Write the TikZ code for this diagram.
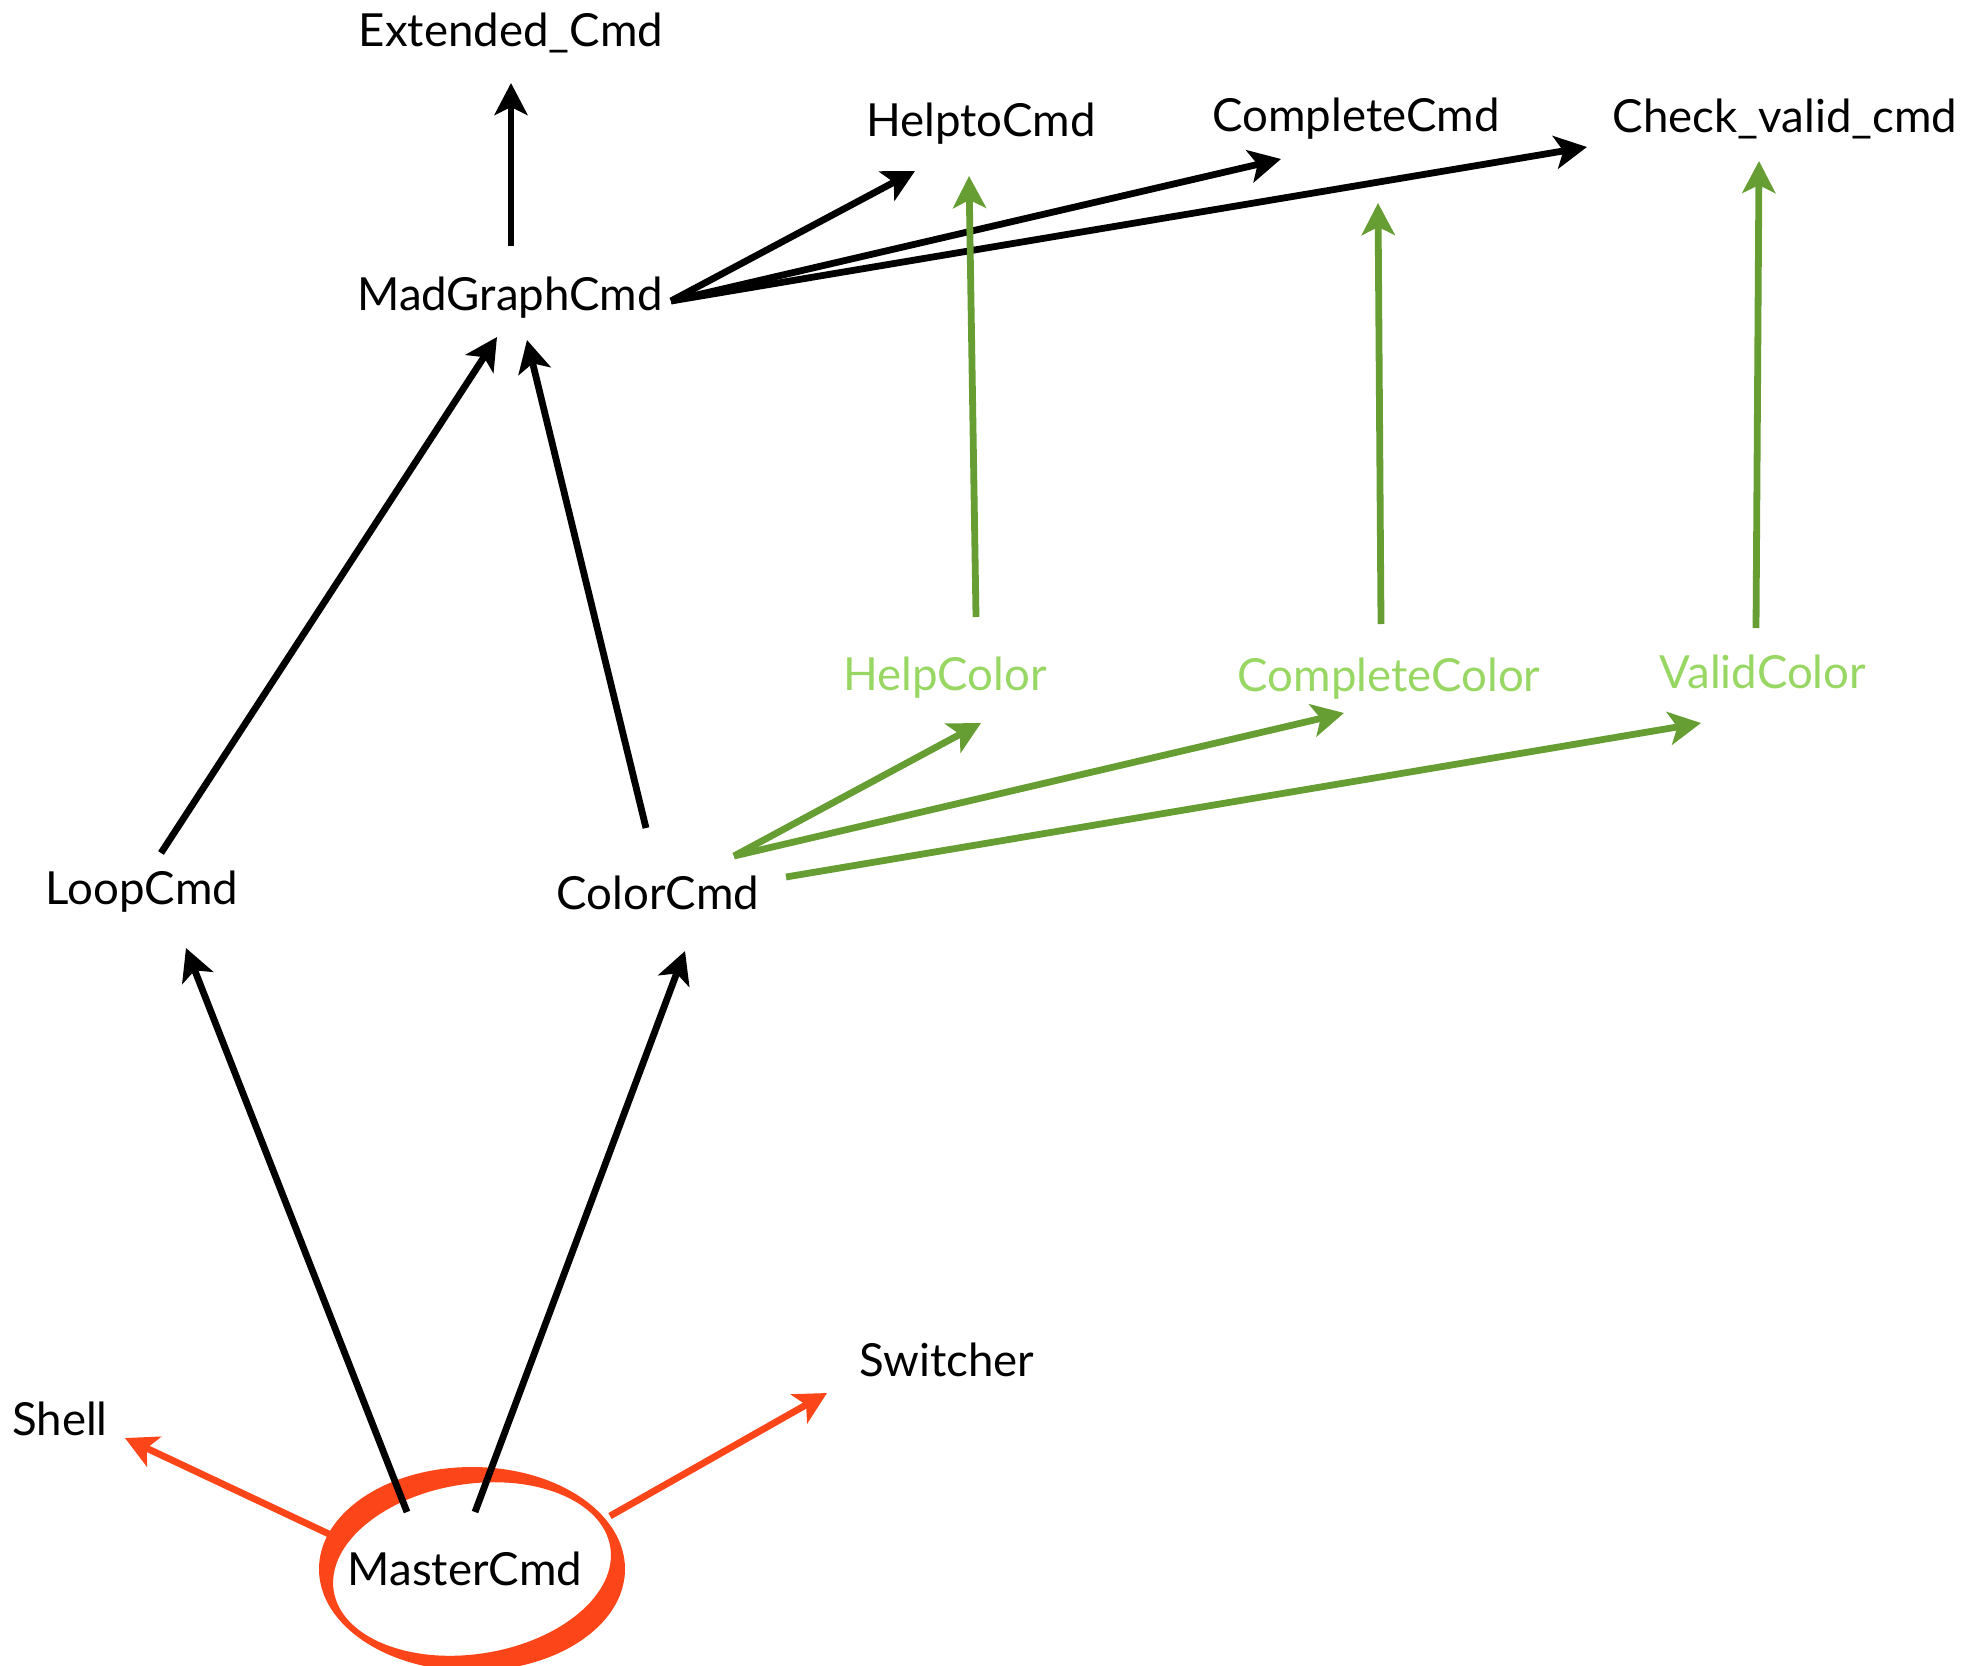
\documentclass[tikz,border=0pt]{standalone}
\usepackage{fontspec}
\setmainfont{Lato}
\usetikzlibrary{arrows.meta,calc}
\definecolor{linkgreen}{HTML}{669E33}
\definecolor{labelgreen}{HTML}{98D764}
\definecolor{shellred}{HTML}{FC4518}
\begin{document}
\begin{tikzpicture}[x=0.5pt,y=-0.5pt,
  lbl/.style={anchor=base,inner sep=0pt,font=\fontsize{22.8}{27}\selectfont},
  glbl/.style={lbl,text=labelgreen},
  conn/.style={line width=3.4pt,-{Stealth[length=16pt,width=16.5pt,inset=4pt]}},
  blk/.style={conn,black},
  grn/.style={conn,linkgreen},
  red/.style={conn,shellred}]
\useasboundingbox (0,0) rectangle (1968,1665);

% labels
\node[lbl]  (ext)    at (511,46)   {Extended\_Cmd};
\node[lbl]  (help)   at (981,136)  {HelptoCmd};
\node[lbl]  (comp)   at (1356,131) {CompleteCmd};
\node[lbl]  (check)  at (1785,132) {Check\_valid\_cmd};
\node[lbl]  (mad)    at (510,310)  {MadGraphCmd};
\node[glbl] (hcol)   at (945,690)  {HelpColor};
\node[glbl] (ccol)   at (1389,691) {CompleteColor};
\node[glbl] (vcol)   at (1763,688) {ValidColor};
\node[lbl]  (loop)   at (142,904)  {LoopCmd};
\node[lbl]  (color)  at (658,909)  {ColorCmd};
\node[lbl]  (switch) at (947,1376) {Switcher};
\node[lbl]  (shell)  at (60,1435)  {Shell};
\node[lbl]  (master) at (465,1585) {MasterCmd};

% brush-stroke ring around the root command
\coordinate (mc) at ($(master.base)+(7,-16)$);
\fill[shellred,even odd rule]
  (mc) ellipse [x radius=153, y radius=102]
  (mc) ellipse [x radius=140, y radius=85, rotate=9];

% red links from the root
\draw[red] ($(master.base)+(-136,-51)$) -- ($(shell.base)+(65,3)$);
\draw[red] ($(master.base)+(145,-69)$) -- ($(switch.base)+(-120,17)$);

% black command links
\draw[blk] ($(master.base)+(-58,-73)$) -- ($(loop.base)+(44,44)$);
\draw[blk] ($(master.base)+(10,-73)$)  -- ($(color.base)+(27,42)$);
\draw[blk] ($(loop.base)+(19,-51)$)  -- ($(mad.base)+(-13,27)$);
\draw[blk] ($(color.base)+(-12,-81)$) -- ($(mad.base)+(17,30)$);
\draw[blk] ($(mad.base)+(1,-64)$) -- ($(ext.base)+(0,37)$);
\draw[blk] ($(mad.base)+(161,-9)$) -- ($(help.base)+(-66,35)$);
\draw[blk] ($(mad.base)+(161,-9)$) -- ($(comp.base)+(-75,28)$);
\draw[blk] ($(mad.base)+(161,-9)$) -- ($(check.base)+(-198,15)$);

% green colour links
\draw[grn] ($(color.base)+(76,-53)$) -- ($(hcol.base)+(36,33)$);
\draw[grn] ($(color.base)+(76,-53)$) -- ($(ccol.base)+(-45,22)$);
\draw[grn] ($(color.base)+(128,-32)$) -- ($(vcol.base)+(-62,35)$);
\draw[grn] ($(hcol.base)+(31,-73)$) -- ($(help.base)+(-12,40)$);
\draw[grn] ($(ccol.base)+(-8,-67)$) -- ($(comp.base)+(22,72)$);
\draw[grn] ($(vcol.base)+(-7,-60)$) -- ($(check.base)+(-26,29)$);
\end{tikzpicture}
\end{document}
